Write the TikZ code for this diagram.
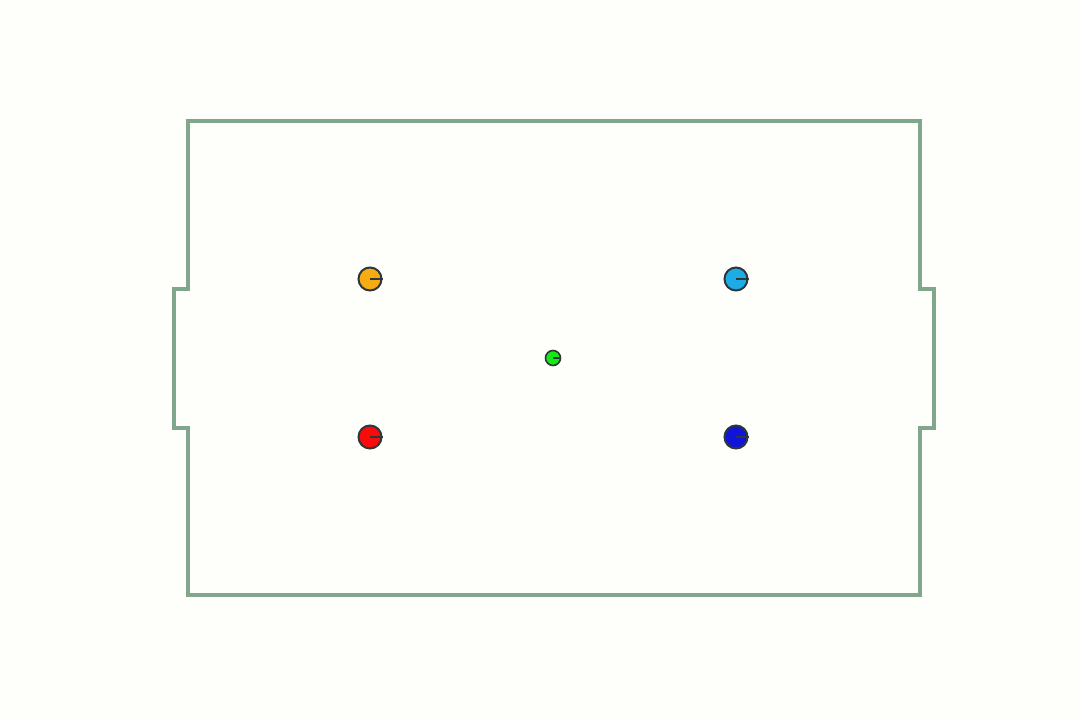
\documentclass[tikz,border=0pt]{standalone}
\definecolor{bg}{RGB}{254,254,251}
\definecolor{field}{RGB}{128,166,140}
\definecolor{rim}{RGB}{45,55,60}
\definecolor{cyellow}{RGB}{248,172,20}
\definecolor{ccyan}{RGB}{30,172,228}
\definecolor{cred}{RGB}{250,10,10}
\definecolor{cblue}{RGB}{15,20,215}
\definecolor{cgreen}{RGB}{20,235,20}
\begin{document}
\begin{tikzpicture}[x=1pt,y=-1pt,
  wall/.style={draw=field,line width=4pt,line join=miter},
  robot/.style={circle,draw=rim,line width=2pt,minimum size=23pt,inner sep=0pt},
  ball/.style={circle,draw=rim,line width=1.6pt,minimum size=15pt,inner sep=0pt},
  head/.style={draw=rim,line width=2pt}]
\fill[bg] (0,0) rectangle (1080,720);
\useasboundingbox (0,0) rectangle (1080,720);
\draw[wall] (188,121) -- (920,121) -- (920,289) -- (934,289) -- (934,428) -- (920,428) -- (920,595)
  -- (188,595) -- (188,428) -- (174,428) -- (174,289) -- (188,289) -- cycle;
\node[robot,fill=cyellow] (ry) at (370,279) {};
\node[robot,fill=ccyan] (rc) at (736,279) {};
\node[robot,fill=cred] (rr) at (370,437) {};
\node[robot,fill=cblue] (rb) at (736,437) {};
\node[ball,fill=cgreen] (b) at (553,358) {};
\foreach \n in {ry,rc,rr,rb} \draw[head] (\n.center) -- (\n.east);
\draw[head,line width=1.6pt] (b.center) -- (b.east);
\end{tikzpicture}
\end{document}
